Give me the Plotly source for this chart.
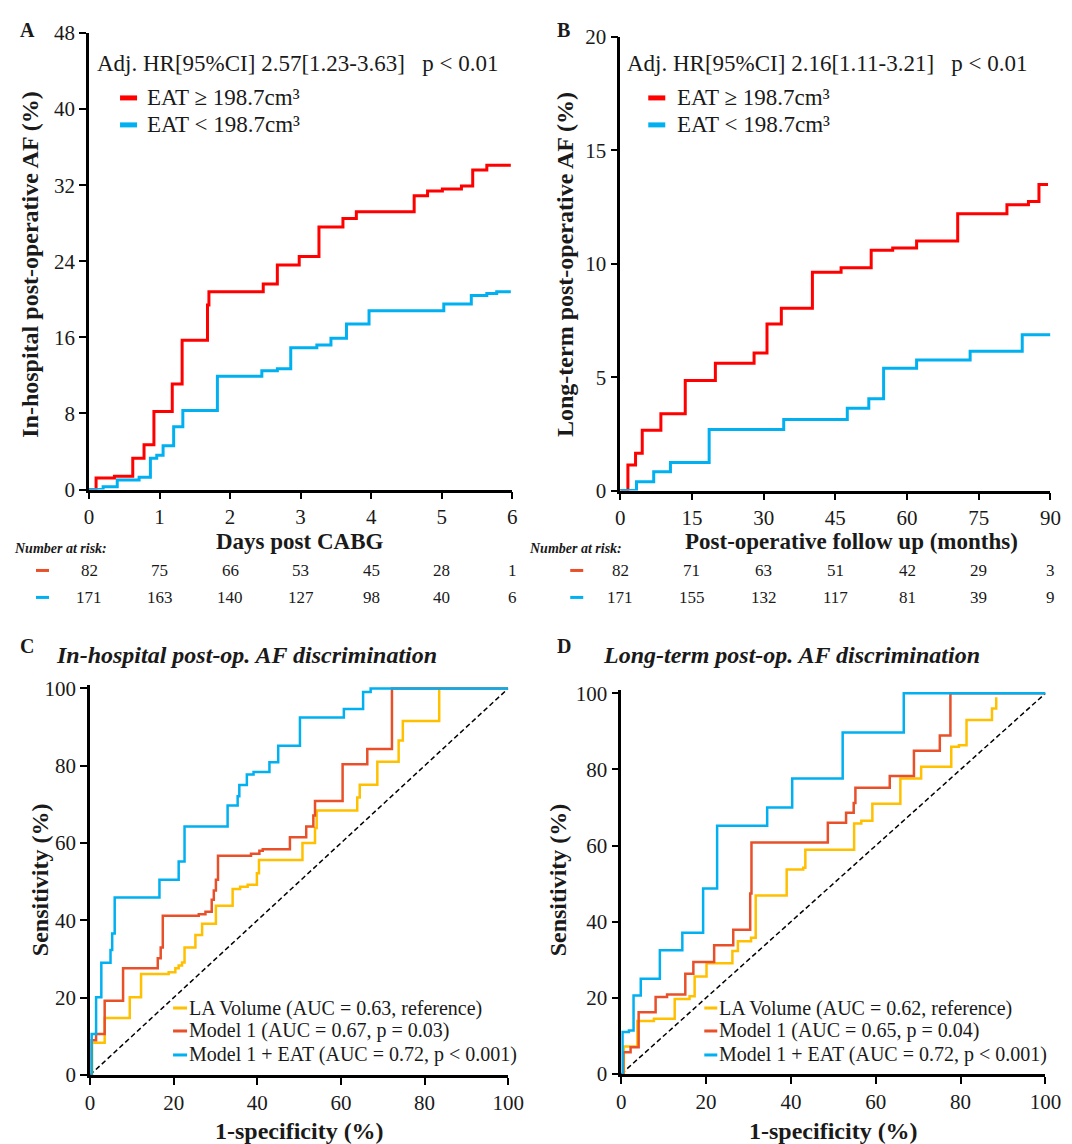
import plotly.graph_objects as go

W, H = 1072, 1144
# calibration between figure pixels and the captured picture (measured from previous renders)
SX, OX = 0.98, 13.0
SY, OY = 0.98, 19.0
def px(x): return ((x - OX) / SX) / W
def py(y): return 1 - ((y - OY) / SY) / H

FONT = "Liberation Serif"
TXT = "#1a1a1a"
RED = "#FF0000"
BLUE = "#00B0F0"
ORANGE = "#E8502A"
YEL = "#FFC000"

# ---------------- Panel A: in-hospital KM (days, %) ----------------
a_red_t = [0, 0.10, 0.36, 0.62, 0.78, 0.92, 1.18, 1.32, 1.68, 1.70, 2.47, 2.67, 2.98, 3.26, 3.60, 3.79, 4.61, 4.80, 5.01, 5.28, 5.44, 5.64, 5.98]
a_red_y = [0, 1.2, 1.4, 3.3, 4.7, 8.2, 11.1, 15.7, 19.4, 20.8, 21.6, 23.6, 24.5, 27.6, 28.5, 29.2, 30.9, 31.4, 31.6, 31.9, 33.6, 34.1, 34.1]
a_blue_t = [0, 0.20, 0.40, 0.71, 0.87, 0.96, 1.05, 1.20, 1.33, 1.82, 2.45, 2.67, 2.86, 3.23, 3.43, 3.65, 3.97, 5.03, 5.42, 5.64, 5.78, 5.98]
a_blue_y = [0, 0.3, 1.0, 1.3, 3.3, 3.6, 4.6, 6.6, 8.3, 11.9, 12.5, 12.7, 14.9, 15.2, 15.9, 17.4, 18.8, 19.5, 20.4, 20.6, 20.8, 20.8]
a_ticks = [0, 1, 2, 3, 4, 5, 6]
a_yticks = [0, 8, 16, 24, 32, 40, 48]
a_risk_red = [82, 75, 66, 53, 45, 28, 1]
a_risk_blue = [171, 163, 140, 127, 98, 40, 6]

# ---------------- Panel B: long-term KM (months, %) ----------------
b_red_t = [0, 1.6, 3.2, 4.6, 8.5, 13.6, 19.9, 28.0, 30.7, 33.7, 40.2, 46.2, 52.5, 57.0, 62.0, 70.6, 80.9, 85.4, 87.6, 89.5]
b_red_y = [0, 1.13, 1.64, 2.66, 3.39, 4.85, 5.61, 6.07, 7.34, 8.04, 9.63, 9.82, 10.6, 10.7, 11.0, 12.2, 12.6, 12.75, 13.5, 13.5]
b_blue_t = [0, 3.4, 7.0, 10.5, 18.6, 34.2, 47.5, 52.0, 55.1, 62.0, 73.2, 84.1, 90.0]
b_blue_y = [0, 0.39, 0.83, 1.24, 2.69, 3.13, 3.63, 4.05, 5.39, 5.76, 6.14, 6.87, 6.87]
b_ticks = [0, 15, 30, 45, 60, 75, 90]
b_yticks = [0, 5, 10, 15, 20]
b_risk_red = [82, 71, 63, 51, 42, 29, 3]
b_risk_blue = [171, 155, 132, 117, 81, 39, 9]

# ---------------- Panel C: in-hospital ROC ----------------
c_la_fpr = [0.5, 0.5, 3.5, 9.5, 12.2, 18.8, 20.4, 21.2, 22.0, 22.6, 25.2, 26.8, 30.1, 34.1, 35.9, 37.7, 39.9, 40.4, 50.8, 53.8, 54.2, 63.9, 64.5, 68.7, 73.8, 74.8, 83.5]
c_la_tpr = [0, 8.3, 14.7, 20.1, 26.1, 26.6, 27.6, 28.3, 29.1, 33.0, 36.2, 39.1, 43.8, 48.1, 48.7, 49.2, 52.2, 55.6, 60.0, 63.9, 68.4, 71.8, 75.1, 81.0, 86.5, 91.6, 100]
c_m1_fpr = [0.4, 0.4, 1.45, 3.5, 7.9, 16.2, 16.9, 17.4, 26.0, 27.6, 29.1, 29.6, 30.1, 30.6, 38.5, 40.5, 41.3, 47.8, 51.7, 53.4, 53.8, 60.4, 66.3, 72.2, 100]
c_m1_tpr = [0, 9.0, 10.6, 19.2, 27.6, 30.2, 33.0, 41.2, 41.6, 42.2, 45.3, 47.7, 50.5, 56.7, 57.2, 58.0, 58.4, 61.5, 64.3, 67.1, 70.9, 80.4, 84.3, 100, 100]
c_eat_fpr = [0.4, 0.4, 1.45, 2.7, 4.9, 5.3, 5.9, 16.6, 21.2, 22.6, 32.9, 35.3, 35.7, 37.5, 39.1, 42.9, 45.0, 50.2, 60.7, 65.3, 67.1, 100]
c_eat_tpr = [0, 10.6, 20.1, 29.0, 32.3, 36.6, 45.9, 50.5, 55.2, 64.3, 69.7, 72.1, 75.0, 77.7, 78.4, 80.9, 85.2, 92.5, 94.7, 99.1, 100, 100]

# ---------------- Panel D: long-term ROC ----------------
d_la_fpr = [0.6, 0.6, 3.8, 7.7, 12.6, 16.1, 17.3, 20.1, 26.2, 27.5, 30.6, 31.7, 39.0, 42.9, 43.4, 54.9, 56.6, 59.2, 65.8, 70.7, 77.8, 79.6, 81.4, 87.4, 88.4]
d_la_tpr = [0, 7.2, 13.9, 14.5, 19.7, 20.4, 25.6, 29.1, 32.3, 34.9, 35.8, 46.9, 53.7, 54.2, 58.9, 65.8, 66.5, 71.0, 77.6, 80.7, 86.0, 86.4, 93.0, 96.0, 99.0]
d_m1_fpr = [0.5, 0.5, 2.2, 4.1, 8.1, 10.8, 15.1, 17.0, 21.9, 26.4, 30.4, 30.7, 48.7, 53.0, 54.8, 55.2, 63.3, 69.0, 75.1, 77.6, 100]
d_m1_tpr = [0, 5.7, 7.0, 16.2, 20.2, 20.9, 26.3, 29.4, 33.8, 37.9, 47.4, 60.8, 66.0, 68.6, 71.2, 75.2, 78.3, 84.9, 88.9, 100, 100]
d_eat_fpr = [0.3, 0.3, 1.8, 2.9, 4.6, 9.1, 14.4, 19.3, 22.6, 34.4, 40.3, 52.2, 66.6, 100]
d_eat_tpr = [0, 11.0, 11.4, 20.6, 25.0, 32.5, 37.1, 48.7, 65.2, 70.0, 77.6, 89.7, 100, 100]
roc_ticks = [0, 20, 40, 60, 80, 100]
diag = [0, 100]

c_labels = ["LA Volume (AUC = 0.63, reference)", "Model 1 (AUC = 0.67, p = 0.03)", "Model 1 + EAT (AUC = 0.72, p < 0.001)"]
d_labels = ["LA Volume (AUC = 0.62, reference)", "Model 1 (AUC = 0.65, p = 0.04)", "Model 1 + EAT (AUC = 0.72, p < 0.001)"]
km_labels = ["EAT ≥ 198.7cm³", "EAT < 198.7cm³"]

fig = go.Figure()

def step(x, y, color, width, xa, ya):
    fig.add_trace(go.Scatter(x=x, y=y, mode="lines", xaxis=xa, yaxis=ya,
                             line=dict(color=color, width=width, shape="hv"),
                             showlegend=False, hoverinfo="skip"))

step(a_red_t, a_red_y, RED, 3, "x", "y")
step(a_blue_t, a_blue_y, BLUE, 3, "x", "y")
step(b_red_t, b_red_y, RED, 3, "x2", "y2")
step(b_blue_t, b_blue_y, BLUE, 3, "x2", "y2")

for xa, ya, la, m1, eat in [("x3", "y3", (c_la_fpr, c_la_tpr), (c_m1_fpr, c_m1_tpr), (c_eat_fpr, c_eat_tpr)),
                            ("x4", "y4", (d_la_fpr, d_la_tpr), (d_m1_fpr, d_m1_tpr), (d_eat_fpr, d_eat_tpr))]:
    fig.add_trace(go.Scatter(x=diag, y=diag, mode="lines", xaxis=xa, yaxis=ya,
                             line=dict(color="black", width=1.5, dash="5px,3px"), showlegend=False, hoverinfo="skip"))
    step(la[0], la[1], YEL, 2.5, xa, ya)
    step(m1[0], m1[1], ORANGE, 2.5, xa, ya)
    step(eat[0], eat[1], BLUE, 2.5, xa, ya)

def axis(domain, rng, tickvals, anchor):
    return dict(domain=domain, range=rng, tickvals=tickvals, anchor=anchor,
                showline=True, linecolor="black", linewidth=2.5, ticks="outside",
                ticklen=7, tickwidth=2, tickcolor="black", showgrid=False, zeroline=False,
                tickfont=dict(family=FONT, size=21, color=TXT), fixedrange=True)

layout = dict(
    width=W, height=H, margin=dict(l=0, r=0, t=0, b=0),
    paper_bgcolor="white", plot_bgcolor="white", showlegend=False,
    xaxis=axis([px(89), px(512)], [0, 6], a_ticks, "y"),
    yaxis=axis([py(489), py(32)], [0, 48], a_yticks, "x"),
    xaxis2=axis([px(620), px(1050)], [0, 90], b_ticks, "y2"),
    yaxis2=axis([py(490), py(36)], [0, 20], b_yticks, "x2"),
    xaxis3=axis([px(90), px(508)], [0, 100], roc_ticks, "y3"),
    yaxis3=axis([py(1075), py(685)], [0, 100.8], roc_ticks, "x3"),
    xaxis4=axis([px(621), px(1045)], [0, 100], roc_ticks, "y4"),
    yaxis4=axis([py(1074), py(690)], [0, 100.8], roc_ticks, "x4"),
)
fig.update_layout(**layout)

ann = []
shapes = []

def text(x, y, t, size=19, bold=False, italic=False, angle=0, xanchor="left", xref="paper"):
    s = t
    if bold:
        s = "<b>" + s + "</b>"
    if italic:
        s = "<i>" + s + "</i>"
    ann.append(dict(x=x if xref != "paper" else px(x), y=py(y), xref=xref, yref="paper", text=s,
                    showarrow=False, xanchor=xanchor, yanchor="middle", textangle=angle,
                    borderpad=0, font=dict(family=FONT, size=size, color=TXT)))

def dash(x0, x1, y, color, w):
    shapes.append(dict(type="line", xref="paper", yref="paper", x0=px(x0), x1=px(x1),
                       y0=py(y), y1=py(y), line=dict(color=color, width=w)))

# Panel letters
text(27, 29, "A", 20, bold=True, xanchor="center")
text(563, 29, "B", 20, bold=True, xanchor="center")
text(27, 646, "C", 20, bold=True, xanchor="center")
text(564, 646, "D", 20, bold=True, xanchor="center")

# KM annotations
text(96, 63, "Adj. HR[95%CI] 2.57[1.23-3.63]&nbsp;&nbsp; p < 0.01", 23)
text(626, 63, "Adj. HR[95%CI] 2.16[1.11-3.21]&nbsp;&nbsp; p < 0.01", 23)
for (lx0, lx1, tx) in [(120, 137, 146), (648, 665, 676)]:
    dash(lx0, lx1, 97, RED, 5)
    dash(lx0, lx1, 124, BLUE, 5)
    text(tx, 97, km_labels[0], 23)
    text(tx, 124, km_labels[1], 23)

# Axis titles
text(30, 264, "In-hospital post-operative AF (%)", 24, bold=True, angle=-90, xanchor="center")
text(565, 264, "Long-term post-operative AF (%)", 24, bold=True, angle=-90, xanchor="center")
text(300, 541, "Days post CABG", 23, bold=True, xanchor="center")
text(851, 541, "Post-operative follow up (months)", 23, bold=True, xanchor="center")
text(40, 880, "Sensitivity (%)", 24, bold=True, angle=-90, xanchor="center")
text(558, 880, "Sensitivity (%)", 24, bold=True, angle=-90, xanchor="center")
text(299, 1131, "1-specificity (%)", 24, bold=True, xanchor="center")
text(833, 1131, "1-specificity (%)", 24, bold=True, xanchor="center")

# ROC titles
text(55, 655, "In-hospital post-op. AF discrimination", 24, bold=True, italic=True)
text(602, 655, "Long-term post-op. AF discrimination", 24, bold=True, italic=True)

# Number at risk
text(13, 548, "Number at risk:", 14, bold=True, italic=True)
text(528, 548, "Number at risk:", 14, bold=True, italic=True)
dash(36, 49, 570, ORANGE, 3)
dash(36, 49, 597, BLUE, 3)
dash(570, 583, 570, ORANGE, 3)
dash(570, 583, 597, BLUE, 3)
for xref, ticks, rr, rb in [("x", a_ticks, a_risk_red, a_risk_blue), ("x2", b_ticks, b_risk_red, b_risk_blue)]:
    for t, r, b in zip(ticks, rr, rb):
        text(t, 570, str(r), 17, xanchor="center", xref=xref)
        text(t, 597, str(b), 17, xanchor="center", xref=xref)

# ROC legends
for (lx0, lx1, tx, labels) in [(173, 187, 188, c_labels), (704, 717, 718, d_labels)]:
    for yy, col, lab in zip([1008, 1031, 1055], [YEL, ORANGE, BLUE], labels):
        dash(lx0, lx1, yy, col, 3)
        text(tx, yy, lab, 20)

fig.update_layout(annotations=ann, shapes=shapes)
fig.write_html("out.html")
